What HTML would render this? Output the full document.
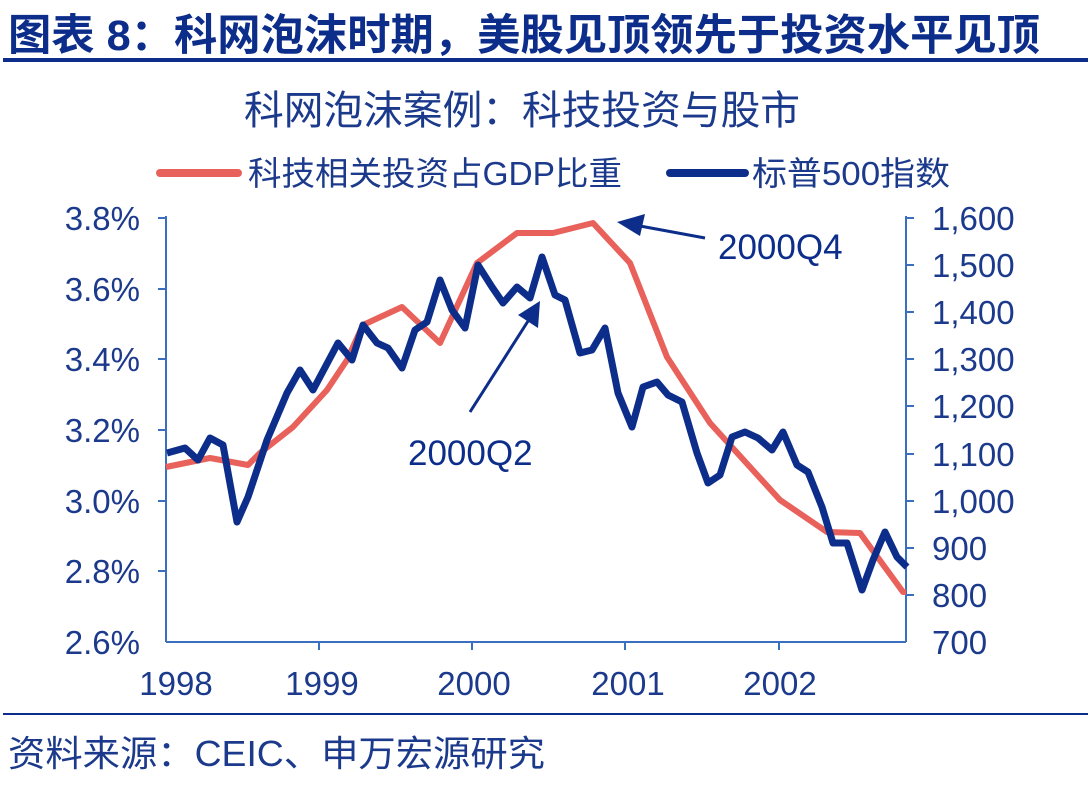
<!DOCTYPE html>
<html><head><meta charset="utf-8"><style>
body{margin:0;width:1092px;height:782px;background:#fff;overflow:hidden;font-family:"Liberation Sans","Noto Sans CJK SC",sans-serif;}
</style></head><body>
<svg width="1092" height="782" xmlns="http://www.w3.org/2000/svg" font-family="Liberation Sans, Noto Sans CJK SC, sans-serif">
<text x="8" y="50" font-size="43" font-weight="bold" fill="#0d2d8a" textLength="1032" lengthAdjust="spacingAndGlyphs">图表 8：科网泡沫时期，美股见顶领先于投资水平见顶</text>
<rect x="3" y="58" width="1085" height="4" fill="#0d2d8a"/>
<text x="244" y="124" font-size="40" fill="#1c3a8c" textLength="556" lengthAdjust="spacingAndGlyphs">科网泡沫案例：科技投资与股市</text>
<line x1="160" y1="173" x2="238" y2="173" stroke="#e8615a" stroke-width="8" stroke-linecap="round"/>
<text x="248" y="185" font-size="33" fill="#1c3a8c" textLength="374" lengthAdjust="spacingAndGlyphs">科技相关投资占GDP比重</text>
<line x1="670" y1="173" x2="745" y2="173" stroke="#0d2d8a" stroke-width="8" stroke-linecap="round"/>
<text x="752" y="185" font-size="33" fill="#1c3a8c" textLength="198" lengthAdjust="spacingAndGlyphs">标普500指数</text>
<g stroke="#3a6fc0" stroke-width="2">
<line x1="166" y1="216" x2="166" y2="642"/>
<line x1="906" y1="216" x2="906" y2="642"/>
<line x1="166" y1="642" x2="906" y2="642"/>
</g>
<g stroke="#3a6fc0" stroke-width="2">
<line x1="158" y1="218" x2="166" y2="218"/><line x1="158" y1="289" x2="166" y2="289"/><line x1="158" y1="359" x2="166" y2="359"/><line x1="158" y1="430" x2="166" y2="430"/><line x1="158" y1="501" x2="166" y2="501"/><line x1="158" y1="571" x2="166" y2="571"/>
<line x1="906" y1="218" x2="914" y2="218"/><line x1="906" y1="265" x2="914" y2="265"/><line x1="906" y1="312" x2="914" y2="312"/><line x1="906" y1="359" x2="914" y2="359"/><line x1="906" y1="406" x2="914" y2="406"/><line x1="906" y1="454" x2="914" y2="454"/><line x1="906" y1="501" x2="914" y2="501"/><line x1="906" y1="548" x2="914" y2="548"/><line x1="906" y1="595" x2="914" y2="595"/>
<line x1="319" y1="642" x2="319" y2="650"/><line x1="472" y1="642" x2="472" y2="650"/><line x1="625" y1="642" x2="625" y2="650"/><line x1="779" y1="642" x2="779" y2="650"/>
</g>
<g font-size="33" fill="#1c3a8c" text-anchor="end">
<text x="140" y="230">3.8%</text><text x="140" y="301">3.6%</text><text x="140" y="371">3.4%</text><text x="140" y="442">3.2%</text><text x="140" y="513">3.0%</text><text x="140" y="583">2.8%</text><text x="140" y="654">2.6%</text>
</g>
<g font-size="33" fill="#1c3a8c" text-anchor="start">
<text x="932" y="230">1,600</text><text x="932" y="277">1,500</text><text x="932" y="324">1,400</text><text x="932" y="371">1,300</text><text x="932" y="418">1,200</text><text x="932" y="466">1,100</text><text x="932" y="513">1,000</text><text x="932" y="560">900</text><text x="932" y="607">800</text><text x="932" y="654">700</text>
</g>
<g font-size="33" fill="#1c3a8c" text-anchor="middle">
<text x="176" y="695">1998</text><text x="322" y="695">1999</text><text x="474" y="695">2000</text><text x="628" y="695">2001</text><text x="780" y="695">2002</text>
</g>
<polyline fill="none" stroke="#e8615a" stroke-width="6" stroke-linejoin="round" points="166,467 210,458 248,465 260,453 293,427 327,390 347,360 363,325 402,307 440,343 477,263 517,233 553,233 593,223 630,263 667,357 710,423 780,500 827,532 860,533 903,592 906,592"/>
<polyline fill="none" stroke="#0d2d8a" stroke-width="7" stroke-linejoin="round" points="167,453 185,448 198,460 210,438 223,445 237,522 248,497 267,440 287,393 300,370 313,390 338,343 352,360 363,325 377,343 388,348 402,368 415,330 427,322 440,280 452,310 465,328 478,265 492,287 503,303 517,287 530,298 542,257 555,295 565,300 580,353 592,350 605,328 618,393 632,427 643,387 657,382 668,395 682,402 697,453 708,483 720,475 732,437 745,432 758,438 772,450 783,432 797,465 808,472 822,507 833,543 847,543 862,590 873,560 885,532 897,557 907,567"/>
<line x1="705" y1="238" x2="640" y2="226" stroke="#0d2d8a" stroke-width="3"/>
<polygon points="617,222 645,214 640,236" fill="#0d2d8a"/>
<text x="718" y="259" font-size="35" fill="#0d2d8a">2000Q4</text>
<line x1="470" y1="412" x2="530" y2="318" stroke="#0d2d8a" stroke-width="3"/>
<polygon points="540,301 538,328 518,315" fill="#0d2d8a"/>
<text x="408" y="465" font-size="35" fill="#0d2d8a">2000Q2</text>
<rect x="3" y="713" width="1085" height="2" fill="#0d2d8a"/>
<text x="8" y="766" font-size="36" fill="#1c3a8c" textLength="537" lengthAdjust="spacingAndGlyphs">资料来源：CEIC、申万宏源研究</text>
</svg>
</body></html>
